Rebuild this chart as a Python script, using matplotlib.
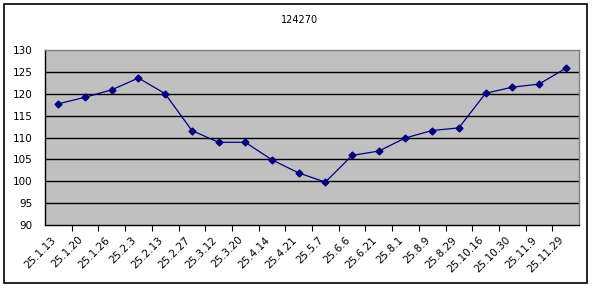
import matplotlib

matplotlib.use("Agg")
import matplotlib.pyplot as plt
from matplotlib.patches import Rectangle
from matplotlib.ticker import FixedLocator

title = "124270"
dates = [
    "25.1.13", "25.1.20", "25.1.26", "25.2.3", "25.2.13", "25.2.27", "25.3.12",
    "25.3.20", "25.4.14", "25.4.21", "25.5.7", "25.6.6", "25.6.21", "25.8.1",
    "25.8.9", "25.8.29", "25.10.16", "25.10.30", "25.11.9", "25.11.29",
]
values = [
    117.7, 119.2, 120.9, 123.6, 120.0, 111.6, 108.9, 108.9, 104.9, 101.9,
    99.8, 105.9, 106.9, 109.9, 111.6, 112.2, 120.1, 121.5, 122.2, 125.8,
]
y_ticks = [90, 95, 100, 105, 110, 115, 120, 125, 130]

W, H = 592, 288
fig = plt.figure(figsize=(W / 100, H / 100), dpi=100)
fig.patches.append(
    Rectangle((4 / W, 1 - 283 / H), 583 / W, 279 / H, transform=fig.transFigure,
              fill=False, edgecolor="black", linewidth=1.2)
)
fig.text(300 / W, 1 - 20 / H, title, ha="center", va="center", fontsize=7)

ax = fig.add_axes([45 / W, 1 - 225 / H, 534 / W, 175 / H])
ax.set_facecolor("#c0c0c0")

x = list(range(len(values)))
ax.plot(x, values, color="#000080", linewidth=0.9, marker="D", markersize=3.5,
        markerfacecolor="#000080", markeredgecolor="#000080", zorder=3)

ax.set_xlim(-0.5, len(values) - 0.5)
ax.set_ylim(90, 130)
ax.set_yticks(y_ticks)
ax.set_yticklabels([str(v) for v in y_ticks], fontsize=7.5)
ax.tick_params(axis="y", length=0, pad=9)
for v in y_ticks[1:-1]:
    ax.axhline(v, color="black", linewidth=1.0, zorder=1)

ax.set_xticks(x)
ax.set_xticklabels(dates, rotation=45, ha="right", va="top", fontsize=7.5)
ax.tick_params(axis="x", which="major", length=0, pad=7)
ax.xaxis.set_minor_locator(FixedLocator([i + 0.5 for i in range(len(values) - 1)]))
ax.tick_params(axis="x", which="minor", length=4, width=0.8, direction="out")

for side in ("top", "right"):
    ax.spines[side].set_color("#808080")
    ax.spines[side].set_linewidth(1.0)
for side in ("left", "bottom"):
    ax.spines[side].set_color("black")
    ax.spines[side].set_linewidth(1.0)

fig.savefig("out.png", dpi=100)
